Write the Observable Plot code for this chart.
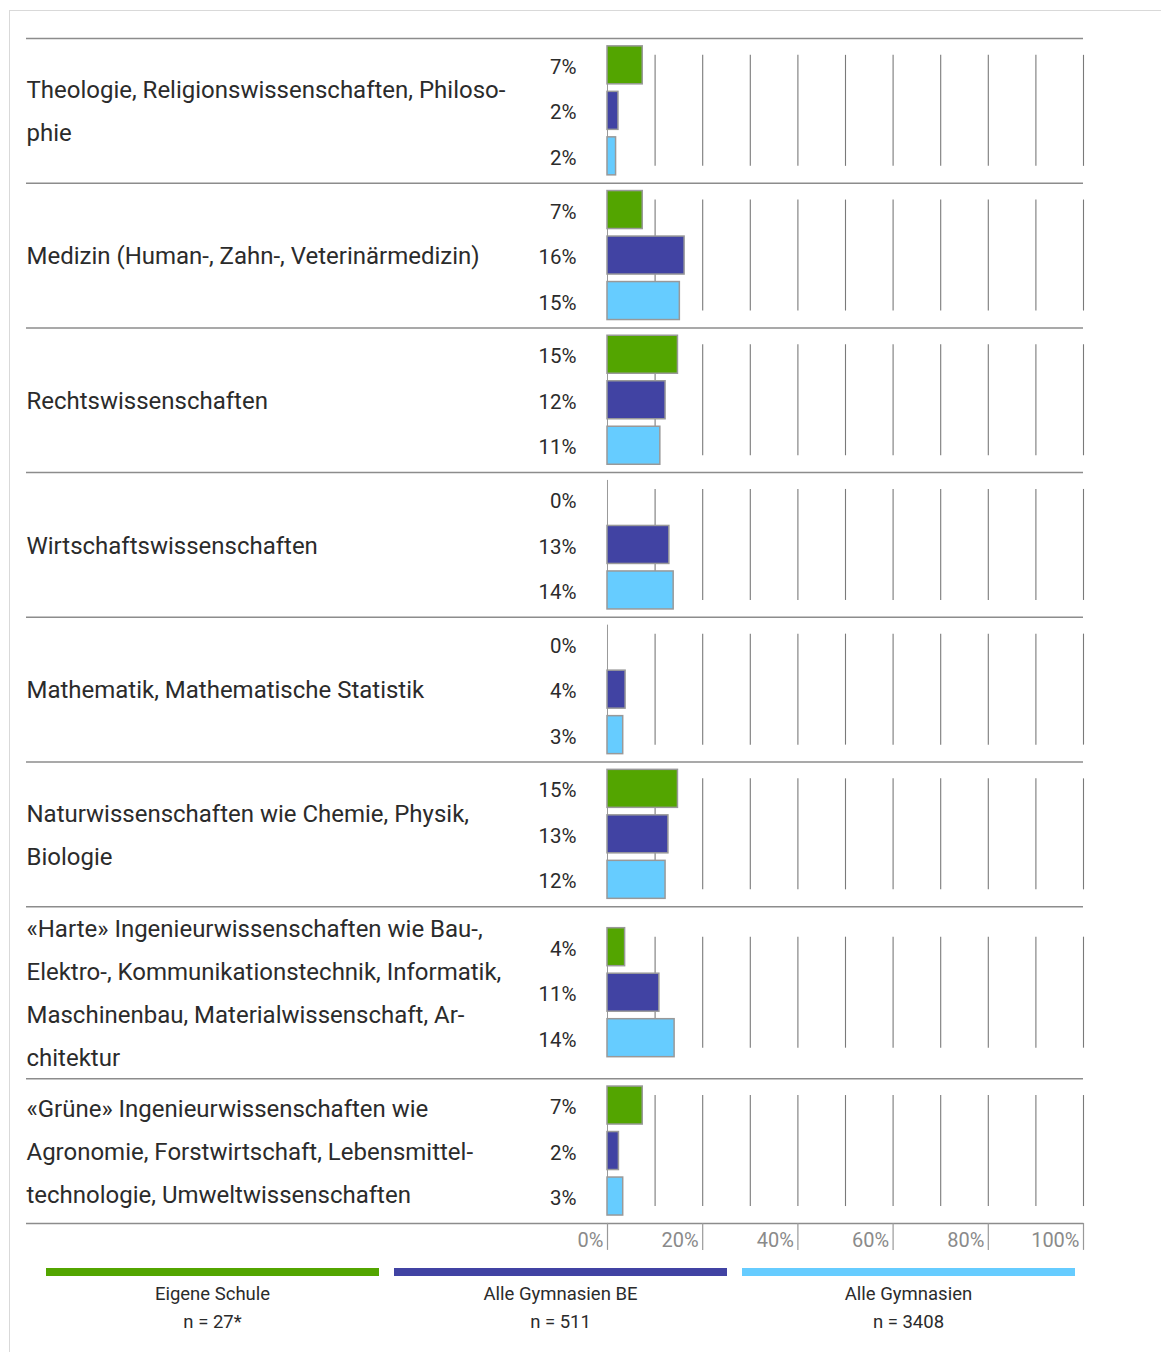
<!DOCTYPE html>
<html>
<head>
<meta charset="utf-8">
<script src="https://cdn.jsdelivr.net/npm/d3@7"></script>
<script src="https://cdn.jsdelivr.net/npm/@observablehq/plot@0.6"></script>
<style>
  html, body { margin: 0; padding: 0; background: #fff; }
  body { width: 1161px; height: 1352px; position: relative; overflow: hidden; font-family: Roboto, "Noto Sans", sans-serif; color: #2b2b2b; }
  #frame { position: absolute; left: 9px; top: 10px; width: 1300px; height: 1500px; border-top: 1px solid #d9d9d9; border-left: 1px solid #d9d9d9; pointer-events: none; }
  #chart { position: absolute; left: 0; top: 0; }
  #legend { position: absolute; left: 46px; top: 1268px; display: flex; gap: 15px; }
  .item { width: 333px; text-align: center; font-size: 18.5px; line-height: 28px; color: #2b2b2b; }
  .bar { height: 8px; margin-bottom: 4px; }
</style>
</head>
<body>
<div id="frame"></div>
<div id="chart"></div>
<div id="legend"></div>
<script>
// ---- data ----
const categories = [
  "Theologie, Religionswissenschaften, Philoso-\nphie",
  "Medizin (Human-, Zahn-, Veterinärmedizin)",
  "Rechtswissenschaften",
  "Wirtschaftswissenschaften",
  "Mathematik, Mathematische Statistik",
  "Naturwissenschaften wie Chemie, Physik,\nBiologie",
  "«Harte» Ingenieurwissenschaften wie Bau-,\nElektro-, Kommunikationstechnik, Informatik,\nMaschinenbau, Materialwissenschaft, Ar-\nchitektur",
  "«Grüne» Ingenieurwissenschaften wie\nAgronomie, Forstwirtschaft, Lebensmittel-\ntechnologie, Umweltwissenschaften"
];
const eigeneSchule   = [7.4, 7.4, 14.8, 0, 0, 14.8, 3.7, 7.4];
const gymnasienBE    = [2.3, 16.2, 12.2, 13.0, 3.8, 12.8, 10.9, 2.4];
const gymnasienAlle  = [1.8, 15.2, 11.1, 13.9, 3.3, 12.2, 14.1, 3.3];
const seriesNames = ["Eigene Schule", "Alle Gymnasien BE", "Alle Gymnasien"];
const seriesN     = ["n = 27*", "n = 511", "n = 3408"];
const seriesColors = ["#53a500", "#4143a3", "#66ccff"];
const axisTicks = [0, 20, 40, 60, 80, 100];
const gridTicks = [10, 20, 30, 40, 50, 60, 70, 80, 90, 100];

// ---- layout (vertical units = px) ----
const baseGroup = 144.7, lineStep = 43, barStep = 45.5, barHalf = 19;
const seriesValues = [eigeneSchule, gymnasienBE, gymnasienAlle];
let acc = 0;
const groups = categories.map((label, i) => {
  const h = Math.max(baseGroup, label.split("\n").length * lineStep);
  const g = {label, top: acc, center: acc + h / 2, bottom: acc + h};
  acc += h;
  return g;
});
const total = acc;
const boundaries = [0, ...groups.map(g => g.bottom)];
const rows = [];
groups.forEach((g, i) => seriesValues.forEach((vals, s) => {
  rows.push({series: seriesNames[s], value: vals[i], yc: g.center + (s - 1) * barStep});
}));
const grid = [];
groups.forEach(g => gridTicks.forEach(t => grid.push({t, c: g.center})));

const marginTop = 38, marginBottom = 41;
const chart = Plot.plot({
  width: 1161,
  height: marginTop + total + marginBottom,
  marginTop, marginBottom,
  marginLeft: 26, marginRight: 78,
  style: {fontFamily: "Roboto, 'Noto Sans', sans-serif", color: "#2b2b2b", background: "transparent"},
  x: {domain: [0, 100], range: [607, 1083], axis: null},
  y: {type: "linear", domain: [0, total], range: [marginTop, marginTop + total], axis: null},
  color: {domain: seriesNames, range: seriesColors},
  marks: [
    Plot.ruleX(grid, {x: "t", y1: d => d.c - 55.5, y2: d => d.c + 55.5, stroke: "#7a7a7a", strokeWidth: 1.1}),
    Plot.ruleX(groups, {x: () => 0, y1: d => d.center - 64.5, y2: d => d.center + 64.5, stroke: "#999", strokeWidth: 1}),
    Plot.ruleY(boundaries, {stroke: "#8c8c8c", strokeWidth: 1.5}),
    Plot.rect(rows, {x1: () => 0, x2: "value", y1: d => d.yc - barHalf, y2: d => d.yc + barHalf, fill: "series", stroke: "#999", strokeWidth: 1.5}),
    Plot.text(rows, {x: () => 0, y: "yc", text: d => Math.round(d.value) + "%", textAnchor: "end", dx: -31, dy: 2, fontSize: 20.5, fill: "#2b2b2b"}),
    Plot.text(groups, {y: "center", text: "label", frameAnchor: "left", textAnchor: "start", lineHeight: 43 / 24, fontSize: 24, dy: -5, fill: "#2b2b2b"}),
    // bottom axis: ticks below the last separator, labels left of each tick
    Plot.ruleX(axisTicks, {x: d => d, y1: () => total, y2: () => total + 27, stroke: "#999", strokeWidth: 1.2}),
    Plot.text(axisTicks, {x: d => d, y: () => total + 17, text: d => d + "%", textAnchor: "end", dx: -4, fontSize: 20, fill: "#8a8a8a"})
  ]
});
document.getElementById("chart").appendChild(chart);

const legend = document.getElementById("legend");
seriesNames.forEach((name, i) => {
  const item = document.createElement("div");
  item.className = "item";
  item.innerHTML = `<div class="bar" style="background:${seriesColors[i]}"></div><div>${name}</div><div>${seriesN[i]}</div>`;
  legend.appendChild(item);
});
</script>
</body>
</html>
